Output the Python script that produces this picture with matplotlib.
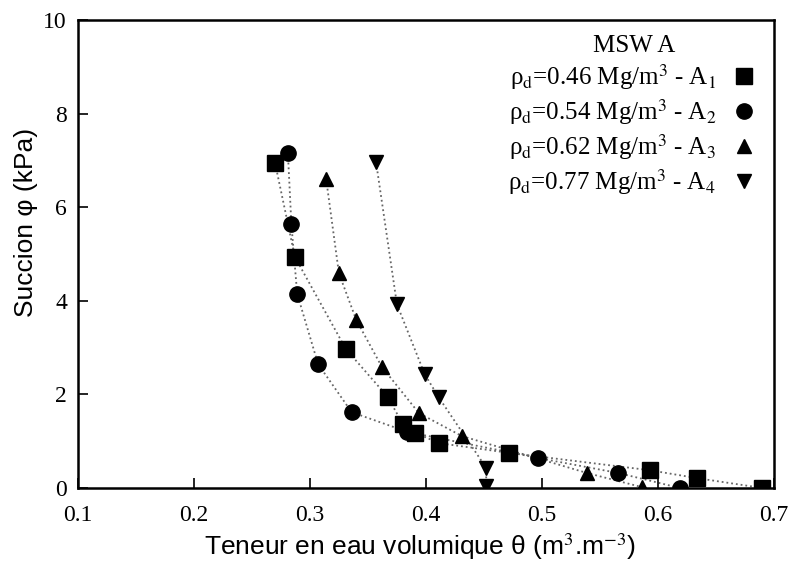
import numpy as np
import matplotlib.pyplot as plt

plt.rcParams['font.family'] = ['Liberation Serif', 'DejaVu Serif']
plt.rcParams['mathtext.fontset'] = 'stix'

# Données
x_a1 = [0.270, 0.287, 0.331, 0.367, 0.380, 0.391, 0.411, 0.472, 0.593, 0.634, 0.690]
y_a1 = [6.94, 4.94, 2.97, 1.95, 1.37, 1.18, 0.96, 0.75, 0.38, 0.21, 0.0]

x_a2 = [0.281, 0.284, 0.289, 0.307, 0.336, 0.384, 0.497, 0.566, 0.619]
y_a2 = [7.16, 5.64, 4.15, 2.65, 1.62, 1.20, 0.64, 0.32, 0.0]

x_a3 = [0.314, 0.325, 0.340, 0.362, 0.394, 0.431, 0.539, 0.586]
y_a3 = [6.60, 4.59, 3.59, 2.59, 1.60, 1.11, 0.32, 0.02]

x_a4 = [0.357, 0.375, 0.399, 0.411, 0.452, 0.452]
y_a4 = [6.97, 3.93, 2.43, 1.94, 0.43, 0.05]

etiquettes = ['ρ$_{\\rm d}$=0.46 Mg/m$^3$ - A$_1$',
              'ρ$_{\\rm d}$=0.54 Mg/m$^3$ - A$_2$',
              'ρ$_{\\rm d}$=0.62 Mg/m$^3$ - A$_3$',
              'ρ$_{\\rm d}$=0.77 Mg/m$^3$ - A$_4$']
marqueurs = ['s', 'o', '^', 'v']
tailles = [11, 11, 10, 10]

fig = plt.figure(figsize=(7.92, 5.62), dpi=100)
ax = fig.add_axes([0.0985, 0.1317, 0.8785, 0.8323])

series = [(x_a1, y_a1), (x_a2, y_a2), (x_a3, y_a3), (x_a4, y_a4)]
for (xs, ys), m, t, lab in zip(series, marqueurs, tailles, etiquettes):
    ax.plot(xs, ys, ls=':', color='#666666', lw=1.3, zorder=1)
    ax.plot(xs, ys, ls='none', marker=m, ms=t, color='black', label=lab, zorder=2)

ax.set_xlim(0.1, 0.7)
ax.set_ylim(0, 10)
ax.set_xticks(np.arange(0.1, 0.71, 0.1))
ax.set_xticklabels(['0.1', '0.2', '0.3', '0.4', '0.5', '0.6', '0.7'])
ax.set_yticks([0, 2, 4, 6, 8, 10])
ax.tick_params(direction='in', length=7, width=1.2, labelsize=17,
               top=False, right=False)
ax.tick_params(axis='x', pad=12)
ax.tick_params(axis='y', pad=8)
for s in ax.spines.values():
    s.set_linewidth(1.8)

ax.set_xlabel('Teneur en eau volumique θ (m$^3$.m$^{-3}$)',
              family='Liberation Sans', fontsize=19)
ax.set_ylabel('Succion φ (kPa)', family='Liberation Sans', fontsize=19)
ax.xaxis.set_label_coords(0.491, -0.092)
ax.yaxis.set_label_coords(-0.058, 0.568)

leg = ax.legend(loc='upper right', frameon=False, markerfirst=False,
                title='MSW A', fontsize=18, title_fontsize=18,
                handletextpad=0.5, labelspacing=0.2, borderaxespad=0.2,
                handlelength=1.2)

fig.savefig('out.png', dpi=100)
